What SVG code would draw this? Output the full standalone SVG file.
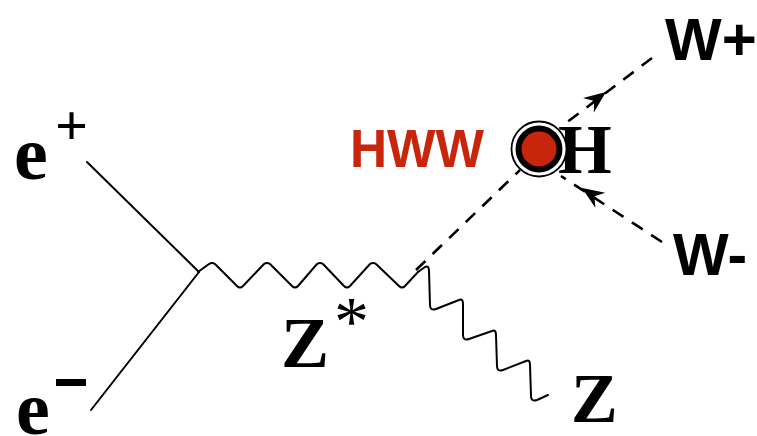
<svg xmlns="http://www.w3.org/2000/svg" width="757" height="436" viewBox="0 0 757 436">
<style>
.serif{font-family:"Liberation Serif","Times New Roman",serif;font-weight:bold;fill:#000}
.sans{font-family:"Liberation Sans",Arial,sans-serif;font-weight:bold}
.line{fill:none;stroke:#000;stroke-width:2;stroke-linecap:round;stroke-linejoin:round}
.dash{fill:none;stroke:#000;stroke-width:2.6;stroke-dasharray:13 10}
</style>
<defs>
<path id="arr" d="M0,0 L-22,-9 L-15,0 L-22,9 Z" fill="#000"/>
</defs>
<rect width="757" height="436" fill="#fff"/>
<g id="connectors">
<path class="line" d="M87,162 L199,272"/>
<path class="line" d="M91,410 L199,272"/>
<path class="line" d="M198,272 L209,264 Q212,262 215,264 L237,286 Q240,289 243,286 L264,264 Q267,262 270,264 L292,286 Q295,289 298,286 L317,264 Q320,262 323,264 L344,286 Q347,289 350,286 L370,264 Q373,262 376,264 L399,286 Q402,289 405,286 L418,272"/>
<path class="line" d="M418,272 L425,267 Q429,265 429,271 L430,305 Q430,311 436,309 L459,300 Q463,298 463,304 L463,335 Q463,341 469,339 L492,331 Q496,329 496,335 L497,366 Q497,372 503,370 L526,361 Q530,359 530,365 L531,396 Q531,402 537,400 L548,395"/>
<path class="dash" d="M416,270 L520,170"/>
<path class="dash" d="M652,58 L562,126"/>
<path class="dash" d="M662,242 L561,176"/>
<use href="#arr" transform="translate(606,92) rotate(-37)"/>
<use href="#arr" transform="translate(582,188) rotate(213.7)"/>
</g>
<g id="e-plus">
<text class="serif" x="14" y="179" font-size="76">e</text>
<text class="serif" x="55" y="145" font-size="58">+</text>
</g>
<g id="e-minus">
<text class="serif" x="16" y="434" font-size="76">e</text>
<rect x="56" y="379" width="30" height="7" fill="#000"/>
</g>
<g id="z-star">
<text class="serif" x="281" y="367" font-size="72">Z</text>
<text x="334" y="345" font-size="70" style="font-family:'Liberation Serif','Times New Roman',serif">*</text>
</g>
<g id="z">
<text class="serif" x="571" y="422" font-size="70">Z</text>
</g>
<g id="higgs">
<text class="serif" x="558" y="173" font-size="69">H</text>
<circle cx="539" cy="149" r="27.5" fill="#fff" stroke="#000" stroke-width="1.8"/>
<circle cx="539" cy="149" r="23.5" fill="#000"/>
<circle cx="539" cy="149" r="17.5" fill="#c8260c"/>
</g>
<g id="hww-label">
<text class="sans" x="350" y="167" font-size="54" fill="#c8260c" textLength="134" lengthAdjust="spacingAndGlyphs">HWW</text>
</g>
<g id="w-plus">
<text class="sans" x="665" y="60" font-size="60" fill="#000">W+</text>
</g>
<g id="w-minus">
<text class="sans" x="673" y="275" font-size="59" fill="#000">W-</text>
</g>
</svg>
